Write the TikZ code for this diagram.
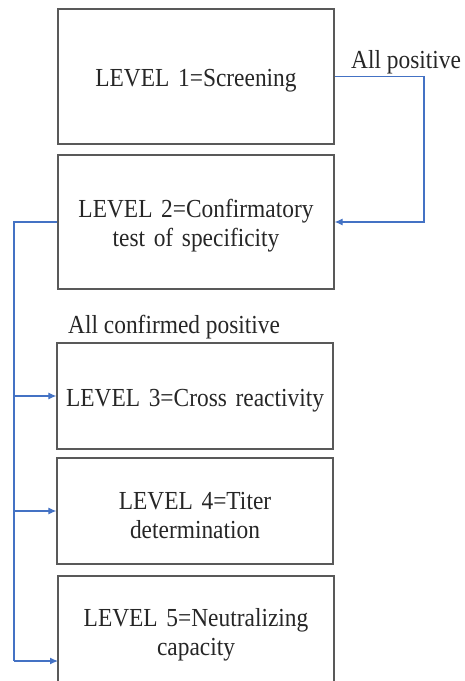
\documentclass[tikz,border=0pt]{standalone}
\usepackage{fontspec}
\setmainfont[FakeStretch=0.9]{Liberation Serif}
\usetikzlibrary{arrows.meta}

\begin{document}
\begin{tikzpicture}[>={Latex[length=8pt,width=7pt]},x=1pt,y=-1pt,
  font=\fontsize{26}{28.5}\selectfont,
  levelbox/.style={draw=boxedge,line width=1.3pt,minimum width=276pt,
    text width=266pt,align=center,inner sep=0pt,text=black!85,
    execute at begin node={\rule{0pt}{26pt}}},
  flow/.style={flowblue,line width=1.1pt}]
\definecolor{boxedge}{RGB}{89,89,89}
\definecolor{flowblue}{RGB}{68,114,196}

% Page frame; the last box runs off the bottom edge.
\useasboundingbox (0,0) rectangle (465,681);
\clip (0,0) rectangle (465,681);

% The five testing levels.
\node[levelbox,minimum height=135pt] (lvl1) at (196,76.5) {LEVEL 1=Screening};
\node[levelbox,minimum height=134pt] (lvl2) at (196,222)
  {LEVEL 2=Confirmatory\\test of specificity};
\node[levelbox,minimum height=106pt] (lvl3) at (195,396) {LEVEL 3=Cross reactivity};
\node[levelbox,minimum height=106pt] (lvl4) at (195,511)
  {LEVEL 4=Titer\\determination};
\node[levelbox,minimum height=110pt] (lvl5) at (196,631)
  {LEVEL 5=Neutralizing\\capacity};

\node[anchor=base west,inner sep=0pt,text=black!85] (allpos) at (351,68) {All positive};
\node[anchor=base west,inner sep=0pt,text=black!85] (allconf) at (68,333)
  {All confirmed positive};

% Return loop on the right, spine on the left.
\coordinate (rturn) at (424,0);
\coordinate (lspine) at (14,0);
\coordinate (spinebot) at (14,661);
\coordinate (lvl5in) at (58,661);

\draw[flow,->] (lvl1.east) -- (lvl1.east -| rturn) |- (lvl2.east);
\draw[flow] (lvl2.west) -- (lvl2.west -| lspine) -- (spinebot);
\draw[flow,->] (lvl3.west -| lspine) -- (lvl3.west);
\draw[flow,->] (lvl4.west -| lspine) -- (lvl4.west);
\draw[flow,->] (spinebot) -- (lvl5in);

\end{tikzpicture}
\end{document}
